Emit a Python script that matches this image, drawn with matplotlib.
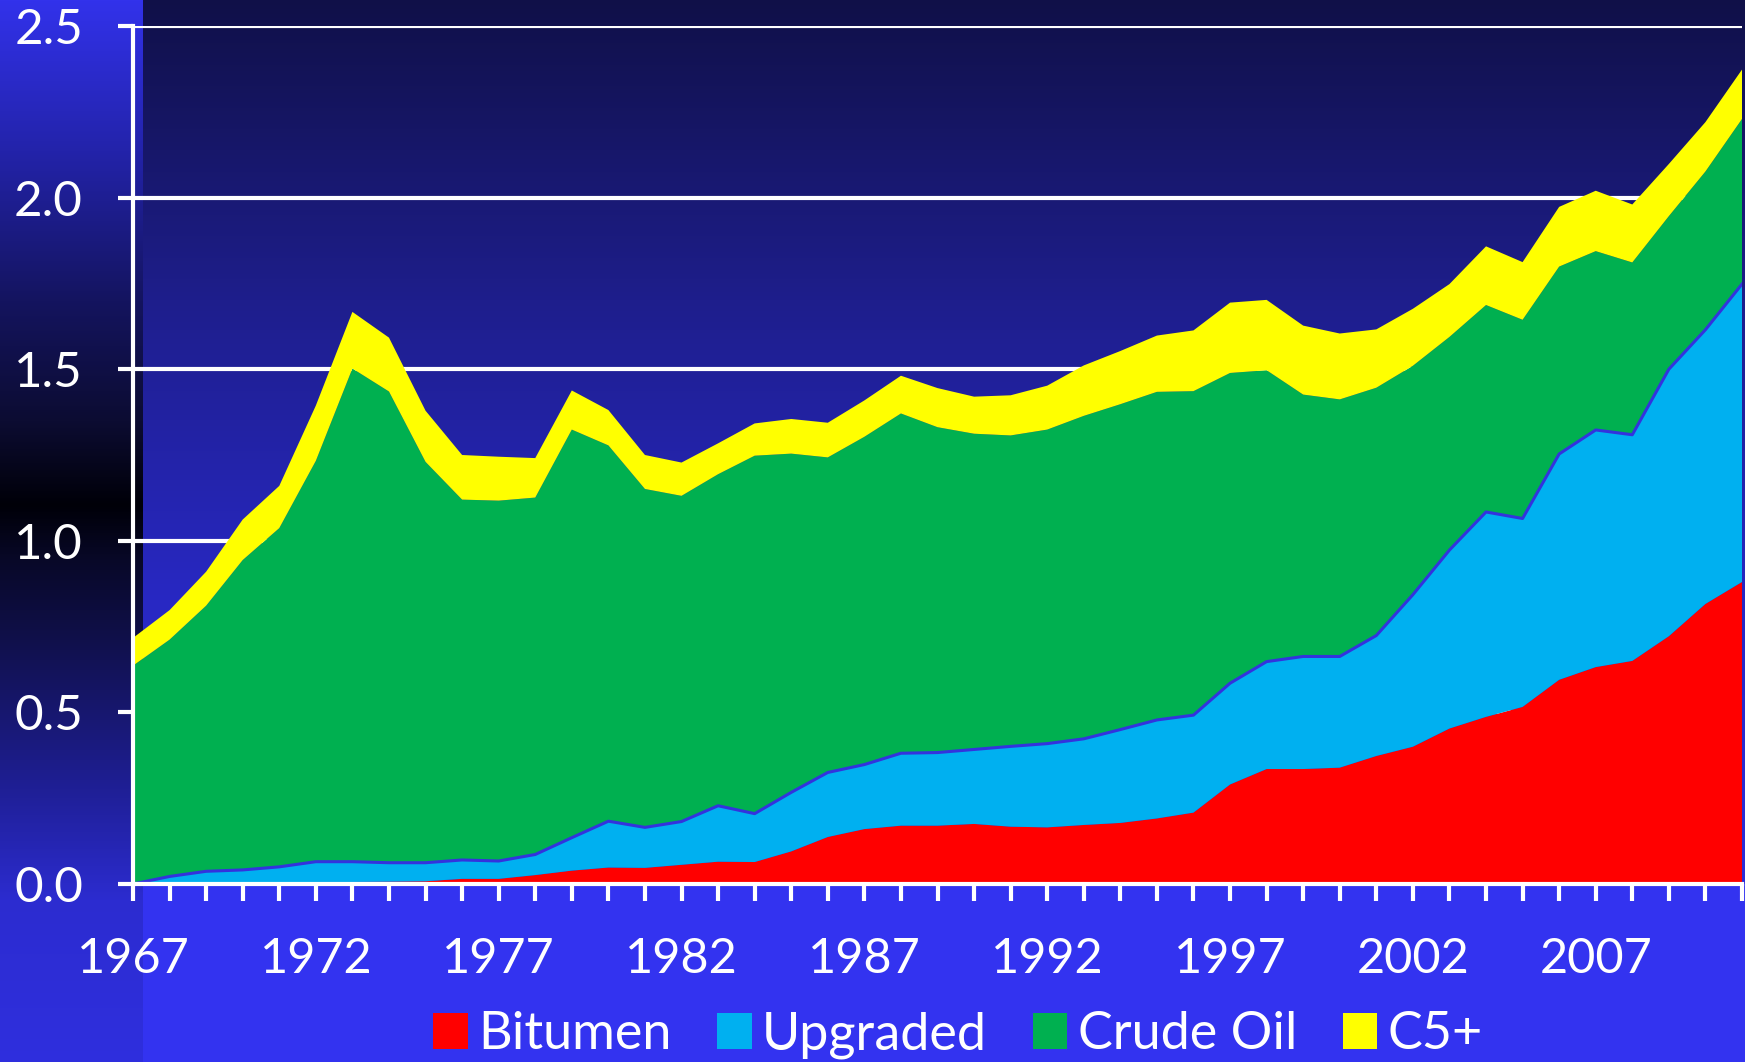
import numpy as np
import matplotlib
matplotlib.use("Agg")
import matplotlib.pyplot as plt
from matplotlib.patches import Patch

# ---------------- data ----------------
years = list(range(1967, 2012))
bitumen = [0.000, 0.002, 0.003, 0.004, 0.005, 0.006, 0.006, 0.007, 0.008, 0.015,
           0.015, 0.026, 0.039, 0.048, 0.047, 0.056, 0.065, 0.064, 0.095, 0.137,
           0.160, 0.170, 0.170, 0.175, 0.167, 0.165, 0.172, 0.178, 0.191, 0.208,
           0.290, 0.335, 0.335, 0.339, 0.373, 0.400, 0.453, 0.487, 0.516, 0.595,
           0.632, 0.650, 0.722, 0.816, 0.880]
upgraded = [0.000, 0.020, 0.034, 0.037, 0.045, 0.059, 0.059, 0.055, 0.054, 0.055,
            0.052, 0.060, 0.096, 0.135, 0.118, 0.126, 0.163, 0.141, 0.172, 0.188,
            0.188, 0.211, 0.213, 0.217, 0.234, 0.244, 0.251, 0.272, 0.287, 0.284,
            0.295, 0.313, 0.328, 0.324, 0.351, 0.443, 0.520, 0.597, 0.549, 0.658,
            0.691, 0.659, 0.778, 0.799, 0.868]
crude_oil = [0.636, 0.690, 0.774, 0.903, 0.987, 1.168, 1.437, 1.373, 1.168, 1.050,
             1.050, 1.040, 1.189, 1.095, 0.986, 0.949, 0.966, 1.043, 0.987, 0.918,
             0.955, 0.990, 0.948, 0.920, 0.906, 0.915, 0.941, 0.948, 0.956, 0.944,
             0.904, 0.849, 0.763, 0.749, 0.722, 0.667, 0.621, 0.603, 0.579, 0.546,
             0.521, 0.502, 0.446, 0.461, 0.481]
c5_plus = [0.081, 0.086, 0.099, 0.118, 0.123, 0.161, 0.165, 0.157, 0.149, 0.130,
           0.128, 0.115, 0.114, 0.103, 0.099, 0.097, 0.090, 0.094, 0.101, 0.101,
           0.106, 0.110, 0.114, 0.108, 0.117, 0.128, 0.147, 0.155, 0.164, 0.177,
           0.205, 0.205, 0.201, 0.192, 0.170, 0.166, 0.154, 0.171, 0.168, 0.174,
           0.176, 0.169, 0.152, 0.144, 0.144]
series_labels = ["Bitumen", "Upgraded", "Crude Oil", "C5+"]
series_colors = ["#FF0000", "#00B0F0", "#00B050", "#FFFF00"]
xtick_labels = [str(y) for y in range(1967, 2008, 5)]
ytick_values = [0.0, 0.5, 1.0, 1.5, 2.0, 2.5]

# ---------------- figure & background ----------------
W, H = 1745, 1062
fig = plt.figure(figsize=(W / 100, H / 100), dpi=100)
fig.patch.set_facecolor("#3333F0")

img = np.zeros((H, W, 3))
img[:, :] = np.array([51, 51, 240]) / 255.0
yy = np.arange(H)

def grad(stops_y, stops_c):
    c = np.array(stops_c, dtype=float) / 255.0
    return np.stack([np.interp(yy, stops_y, c[:, k]) for k in range(3)], axis=1)

plot_grad = grad([0, 300, 600, 884],
                 [(16, 16, 72), (30, 30, 140), (40, 40, 195), (46, 46, 215)])
strip_grad = grad([0, 150, 300, 420, 505, 560, 640, 780, 900, 1062],
                  [(50, 50, 235), (35, 35, 170), (20, 20, 95), (12, 12, 50), (0, 0, 8),
                   (8, 8, 40), (16, 16, 75), (30, 30, 145), (44, 44, 208), (47, 47, 222)])
img[:884, 143:, :] = plot_grad[:884, None, :]
img[:, :143, :] = strip_grad[:, None, :]

bg = fig.add_axes([0, 0, 1, 1], zorder=-10)
bg.imshow(img, extent=[0, W, H, 0], aspect="auto", interpolation="bilinear")
bg.set_xlim(0, W)
bg.set_ylim(H, 0)
bg.axis("off")

# ---------------- main axes ----------------
left, right, top, bottom = 133, 1742, 26, 884
ax = fig.add_axes([left / W, (H - bottom) / H, (right - left) / W, (bottom - top) / H])
ax.set_facecolor("none")

ax.stackplot(years, bitumen, upgraded, crude_oil, c5_plus,
             colors=series_colors, labels=series_labels, linewidth=0, zorder=2)
upg_top = np.array(bitumen) + np.array(upgraded)
ax.plot(years, upg_top, color="#3333DD", lw=2.2, zorder=3, solid_joinstyle="round")

ax.set_xlim(1967, 2011)
ax.set_ylim(0, 2.5)

ax.set_yticks(ytick_values)
ax.set_yticklabels([f"{v:.1f}" for v in ytick_values])
ax.set_xticks(years)
ax.set_xticklabels([str(y) if str(y) in xtick_labels else "" for y in years])

ax.grid(axis="y", color="white", lw=3.0, zorder=1)
ax.grid(axis="x", visible=False)
ax.set_axisbelow(True)

for s in ["top", "right"]:
    ax.spines[s].set_visible(False)
for s in ["left", "bottom"]:
    ax.spines[s].set_color("white")
    ax.spines[s].set_linewidth(3.0)
    ax.spines[s].set_zorder(5)

font = "Lato"
ax.tick_params(axis="y", direction="out", length=11, width=3.0, color="white",
               labelcolor="white", labelsize=35.5, pad=25)
ax.tick_params(axis="x", direction="out", length=12, width=3.0, color="white",
               labelcolor="white", labelsize=35, pad=26)
for lab in ax.get_xticklabels() + ax.get_yticklabels():
    lab.set_fontfamily(font)

handles = [Patch(facecolor=c, edgecolor="none") for c in series_colors]
leg = fig.legend(handles, series_labels, loc="center",
                 bbox_to_anchor=(958 / W, (H - 1035) / H), ncol=4, frameon=False,
                 handlelength=0.66, handleheight=0.66, handletextpad=0.2,
                 columnspacing=0.88, borderpad=0, borderaxespad=0,
                 prop={"family": font, "size": 37.5})
for t in leg.get_texts():
    t.set_color("white")

fig.savefig("out.png", dpi=100, facecolor=fig.get_facecolor())
